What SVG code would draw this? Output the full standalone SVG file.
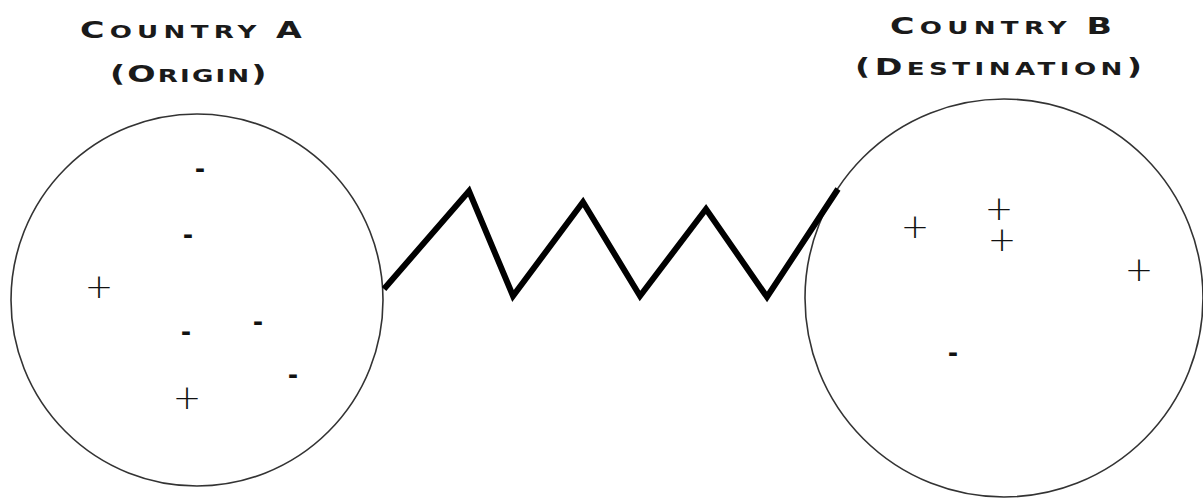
<svg xmlns="http://www.w3.org/2000/svg" width="1203" height="500" viewBox="0 0 1203 500">
<style>
.title{font-family:"DejaVu Sans","Liberation Sans",sans-serif;font-weight:bold;fill:#1a1a1a;}
.big{font-size:23px;}
.sm{font-size:18px;}
.country{fill:none;stroke:#333;stroke-width:1.6;}
.plus{font-family:"DejaVu Sans","Liberation Sans",sans-serif;font-weight:200;font-size:34px;fill:#111;text-anchor:middle;}
.minus{font-family:"Liberation Sans",sans-serif;font-weight:bold;font-size:30px;fill:#111;text-anchor:middle;}
.zig{fill:none;stroke:#000;stroke-width:6;stroke-linejoin:miter;stroke-linecap:butt;}
</style>
<rect width="1203" height="500" fill="#fff"/>
<g id="countryA">
<text class="title" transform="translate(80,38) scale(1.45,1)" x="0" y="0" textLength="153" lengthAdjust="spacing"><tspan class="big">C</tspan><tspan class="sm">OUNTRY </tspan><tspan class="big">A</tspan></text>
<text class="title" transform="translate(110,82) scale(1.45,1)" x="0" y="0" textLength="108" lengthAdjust="spacing"><tspan class="big">(O</tspan><tspan class="sm">RIGIN</tspan><tspan class="big">)</tspan></text>
<circle class="country" cx="197" cy="300" r="186"/>
<text class="minus" x="200" y="178">-</text>
<text class="minus" x="188" y="244">-</text>
<text class="plus" x="99" y="298">+</text>
<text class="minus" x="258" y="331">-</text>
<text class="minus" x="186" y="341">-</text>
<text class="minus" x="293" y="384">-</text>
<text class="plus" x="187" y="409">+</text>
</g>
<g id="countryB">
<text class="title" transform="translate(890,34) scale(1.45,1)" x="0" y="0" textLength="153" lengthAdjust="spacing"><tspan class="big">C</tspan><tspan class="sm">OUNTRY </tspan><tspan class="big">B</tspan></text>
<text class="title" transform="translate(855,75) scale(1.45,1)" x="0" y="0" textLength="198" lengthAdjust="spacing"><tspan class="big">(D</tspan><tspan class="sm">ESTINATION</tspan><tspan class="big">)</tspan></text>
<circle class="country" cx="1004" cy="298" r="199"/>
<text class="plus" x="915" y="238">+</text>
<text class="plus" x="999" y="220"><tspan x="999" y="220">+</tspan><tspan x="1002" y="251">+</tspan></text>
<text class="plus" x="1139" y="281">+</text>
<text class="minus" x="953" y="362">-</text>
</g>
<g id="connectors">
<polyline class="zig" points="384,289 469,191 513,296 583,202 640,296 706,209 767,297 838,189"/>
</g>
</svg>
